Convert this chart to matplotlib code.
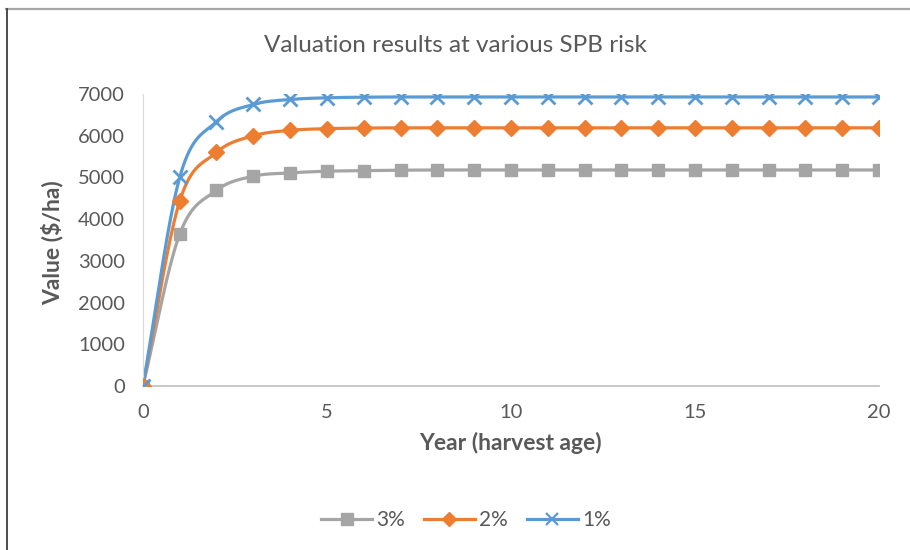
import numpy as np
from matplotlib import pyplot as plt
from matplotlib.lines import Line2D

plt.rcParams['font.family'] = ['Lato', 'DejaVu Sans']

# Data
years = list(range(0, 21))
risk_3 = [0, 3640, 4690, 5030, 5110, 5150, 5165, 5175, 5180, 5180, 5180,
          5180, 5180, 5180, 5180, 5180, 5180, 5180, 5180, 5180, 5180]
risk_2 = [0, 4430, 5600, 6000, 6130, 6170, 6185, 6190, 6190, 6190, 6190,
          6190, 6190, 6190, 6190, 6190, 6190, 6190, 6190, 6190, 6190]
risk_1 = [0, 5000, 6340, 6750, 6870, 6910, 6925, 6930, 6930, 6930, 6930,
          6930, 6930, 6930, 6930, 6930, 6930, 6930, 6930, 6930, 6930]
labels = ['3%', '2%', '1%']
colors = ['#A5A5A5', '#ED7D31', '#5B9BD5']
markers = ['s', 'D', 'x']
text_color = '#595959'


def smooth(x, y, n=20):
    # Catmull-Rom style smoothing, like Excel's smoothed line
    x = np.asarray(x, float)
    y = np.asarray(y, float)
    px = np.concatenate([[2 * x[0] - x[1]], x, [2 * x[-1] - x[-2]]])
    py = np.concatenate([[2 * y[0] - y[1]], y, [2 * y[-1] - y[-2]]])
    xs, ys = [], []
    t = np.linspace(0, 1, n, endpoint=False)
    for i in range(1, len(px) - 2):
        for p, out in ((px, xs), (py, ys)):
            p0, p1, p2, p3 = p[i - 1], p[i], p[i + 1], p[i + 2]
            out.extend(0.5 * ((2 * p1) + (-p0 + p2) * t
                              + (2 * p0 - 5 * p1 + 4 * p2 - p3) * t ** 2
                              + (-p0 + 3 * p1 - 3 * p2 + p3) * t ** 3))
    xs.append(x[-1])
    ys.append(y[-1])
    return xs, ys


fig = plt.figure(figsize=(9.1, 5.5), dpi=100)
ax = fig.add_axes([0.157, 0.298, 0.809, 0.531])

sizes = {'s': 9, 'D': 8, 'x': 9.5}
for series, lab, col, mk in zip([risk_3, risk_2, risk_1], labels, colors, markers):
    sx, sy = smooth(years, series)
    ax.plot(sx, sy, color=col, linewidth=2.3, zorder=2)
    ax.plot(years, series, linestyle='none', marker=mk, color=col, markersize=sizes[mk],
            markeredgewidth=2 if mk == 'x' else 1, zorder=3)
    ax.plot([], [], color=col, linewidth=2.3, marker=mk, markersize=sizes[mk] * 0.9,
            markeredgewidth=1.6 if mk == 'x' else 1, label=lab)

ax.set_xlim(0, 20)
ax.set_ylim(0, 7000)
ax.set_xticks(range(0, 21, 5))
ax.set_yticks(range(0, 7001, 1000))
ax.tick_params(axis='y', length=0, labelsize=14.5, colors=text_color, pad=13)
ax.tick_params(axis='x', length=0, labelsize=14.5, colors=text_color, pad=13)
for side in ['top', 'right']:
    ax.spines[side].set_visible(False)
ax.spines['left'].set_color('#D9D9D9')
ax.spines['bottom'].set_color('#BFBFBF')
ax.spines['bottom'].set_linewidth(1.2)
for sp in ax.spines.values():
    sp.set_clip_on(False)

fig.text(0.5, 1 - 46 / 550, "Valuation results at various SPB risk", fontsize=17.5,
         color=text_color, ha='center', va='center')
ax.set_xlabel("Year (harvest age)", fontsize=16.5, fontweight='bold', color=text_color, labelpad=8)
ax.set_ylabel("Value ($/ha)", fontsize=16.5, fontweight='bold', color=text_color)
ax.yaxis.set_label_coords(-0.108, 0.49)

leg = fig.legend(loc='center', bbox_to_anchor=(0.512, 1 - 520 / 550), ncol=3, frameon=False,
                 fontsize=15, handlelength=2.45, columnspacing=0.9, handletextpad=0.2)
for t in leg.get_texts():
    t.set_color(text_color)

# chart border lines (top and left only, as in the reference)
fig.lines.append(Line2D([6 / 910, 1], [1 - 9 / 550] * 2, transform=fig.transFigure,
                        color='#A6A6A6', linewidth=1.6))
fig.lines.append(Line2D([7 / 910] * 2, [0, 1 - 9 / 550], transform=fig.transFigure,
                        color='#4D4D4D', linewidth=1.4))

fig.savefig("out.png", dpi=100)
